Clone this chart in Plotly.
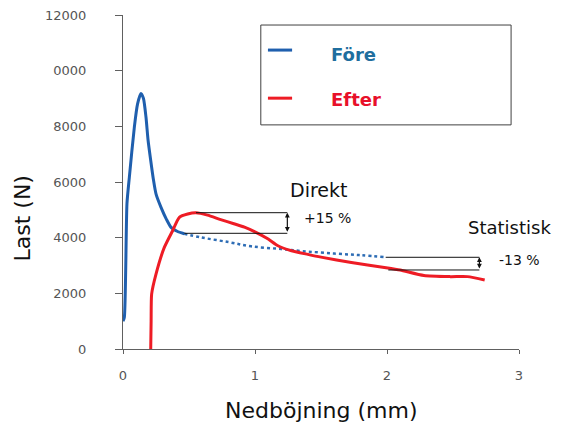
import plotly.graph_objects as go

# ---- data ----
fore_x = [0.0, 0.01, 0.03, 0.048, 0.086, 0.11, 0.136, 0.155, 0.174, 0.19, 0.21, 0.23, 0.25, 0.288, 0.33, 0.364, 0.41, 0.464]
fore_y = [1000, 1130, 5225, 6170, 7975, 8800, 9180, 9000, 8335, 7500, 6775, 6100, 5575, 5090, 4650, 4370, 4230, 4140]

fore_ext_x = [0.464, 0.59, 0.8, 0.97, 1.2, 1.35, 1.6, 1.8, 1.98]
fore_ext_y = [4140, 4010, 3840, 3690, 3590, 3520, 3430, 3370, 3300]

efter_x = [0.21, 0.213, 0.217, 0.25, 0.313, 0.376, 0.427, 0.49, 0.553, 0.64, 0.74, 0.84, 0.92, 1.0, 1.1, 1.17, 1.27, 1.4, 1.5, 1.73, 1.98, 2.1, 2.28, 2.48, 2.61, 2.74]
efter_y = [0, 1000, 1970, 2690, 3650, 4250, 4730, 4850, 4895, 4810, 4650, 4500, 4380, 4210, 3950, 3720, 3540, 3400, 3300, 3110, 2930, 2835, 2640, 2600, 2600, 2480]

y_tickvals = [0, 2000, 4000, 6000, 8000, 10000, 12000]
y_ticktext = ["0", "2000", "4000", "6000", "8000", "0000", "12000"]
x_tickvals = [0, 1, 2, 3]
x_ticktext = ["0", "1", "2", "3"]

# bracket levels
direkt_top, direkt_bot = 4897, 4157
direkt_x0_top, direkt_x0_bot, direkt_x1 = 0.553, 0.464, 1.245
stat_top, stat_bot = 3295, 2839
stat_x0_top, stat_x0_bot, stat_x1 = 1.99, 2.01, 2.70

BLUE = "#1f5fae"
RED = "#ee1c25"
FONT = "DejaVu Sans"

fig = go.Figure()
fig.add_trace(go.Scatter(x=fore_x, y=fore_y, mode="lines", line=dict(color=BLUE, width=3, shape="spline", smoothing=0.6), name="Före", showlegend=False))
fig.add_trace(go.Scatter(x=fore_ext_x, y=fore_ext_y, mode="lines", line=dict(color="#2e6db5", width=2.5, dash="dot", shape="spline"), showlegend=False))
fig.add_trace(go.Scatter(x=efter_x, y=efter_y, mode="lines", line=dict(color=RED, width=3, shape="spline", smoothing=0.6), name="Efter", showlegend=False))

shapes = []
def hline(x0, x1, y):
    shapes.append(dict(type="line", xref="x", yref="y", x0=x0, x1=x1, y0=y, y1=y, line=dict(color="#111111", width=1)))
hline(direkt_x0_top, direkt_x1, direkt_top)
hline(direkt_x0_bot, direkt_x1, direkt_bot)
hline(stat_x0_top, stat_x1, stat_top)
hline(stat_x0_bot, stat_x1, stat_bot)

# legend box (manual)
shapes.append(dict(type="rect", xref="paper", yref="paper", x0=0.348, x1=0.980, y0=0.671, y1=0.970,
                   line=dict(color="#404040", width=1), fillcolor="white", layer="below"))
shapes.append(dict(type="line", xref="paper", yref="paper", x0=0.366, x1=0.427, y0=0.895, y1=0.895, line=dict(color=BLUE, width=3)))
shapes.append(dict(type="line", xref="paper", yref="paper", x0=0.366, x1=0.427, y0=0.751, y1=0.751, line=dict(color=RED, width=3)))

annotations = [
    dict(xref="paper", yref="paper", x=0.521, y=0.883, text="<b>Före</b>", showarrow=False, xanchor="left", yanchor="middle",
         font=dict(family=FONT, size=18, color="#1f6e9e")),
    dict(xref="paper", yref="paper", x=0.521, y=0.746, text="<b>Efter</b>", showarrow=False, xanchor="left", yanchor="middle",
         font=dict(family=FONT, size=18, color="#e8102a")),
    dict(xref="paper", yref="paper", x=0.417, y=0.476, text="Direkt", showarrow=False, xanchor="left", yanchor="middle",
         font=dict(family=FONT, size=19, color="#111111")),
    dict(xref="paper", yref="paper", x=0.452, y=0.392, text="+15 %", showarrow=False, xanchor="left", yanchor="middle",
         font=dict(family=FONT, size=14, color="#111111")),
    dict(xref="paper", yref="paper", x=0.866, y=0.365, text="Statistisk", showarrow=False, xanchor="left", yanchor="middle",
         font=dict(family=FONT, size=18, color="#111111")),
    dict(xref="paper", yref="paper", x=0.945, y=0.266, text="-13 %", showarrow=False, xanchor="left", yanchor="middle",
         font=dict(family=FONT, size=14, color="#111111")),
    # double arrows
    dict(xref="x", yref="y", axref="x", ayref="y", x=direkt_x1, y=direkt_top, ax=direkt_x1, ay=direkt_bot, text="",
         showarrow=True, arrowside="end+start", arrowhead=2, arrowsize=0.8, arrowwidth=1.2, arrowcolor="#111111",
         standoff=0, startstandoff=0),
    dict(xref="x", yref="y", axref="x", ayref="y", x=stat_x1, y=stat_top, ax=stat_x1, ay=stat_bot, text="",
         showarrow=True, arrowside="end+start", arrowhead=2, arrowsize=0.8, arrowwidth=1.2, arrowcolor="#111111",
         standoff=0, startstandoff=0),
    # axis titles
    dict(xref="paper", yref="paper", x=0.5, y=-0.183, text="Nedböjning (mm)", showarrow=False, xanchor="center", yanchor="middle",
         font=dict(family=FONT, size=22, color="#111111")),
    dict(xref="paper", yref="paper", x=-0.254, y=0.392, text="Last (N)", showarrow=False, textangle=-90, xanchor="center", yanchor="middle",
         font=dict(family=FONT, size=22, color="#111111")),
]

# page body has an 8px margin, so the figure is sized/offset to compensate
fig.update_layout(
    width=553, height=416,
    margin=dict(l=115, r=42, t=7, b=75),
    paper_bgcolor="white", plot_bgcolor="white",
    shapes=shapes, annotations=annotations, showlegend=False,
    xaxis=dict(range=[0, 3], tickvals=x_tickvals, ticktext=x_ticktext, showgrid=False, zeroline=False,
               automargin=False,
               showline=True, linecolor="#606060", linewidth=1, ticks="outside", ticklen=4, tickcolor="#606060",
               ticklabelstandoff=10, ticklabeloverflow="allow",
               tickfont=dict(family=FONT, size=13, color="#555555")),
    yaxis=dict(range=[0, 12000], tickvals=y_tickvals, ticktext=y_ticktext, showgrid=False, zeroline=False,
               automargin=False,
               showline=True, linecolor="#606060", linewidth=1, ticks="outside", ticklen=7, tickcolor="#606060",
               ticklabelstandoff=26, ticklabeloverflow="allow",
               tickfont=dict(family=FONT, size=13, color="#555555")),
)

fig.write_html("out.html")
